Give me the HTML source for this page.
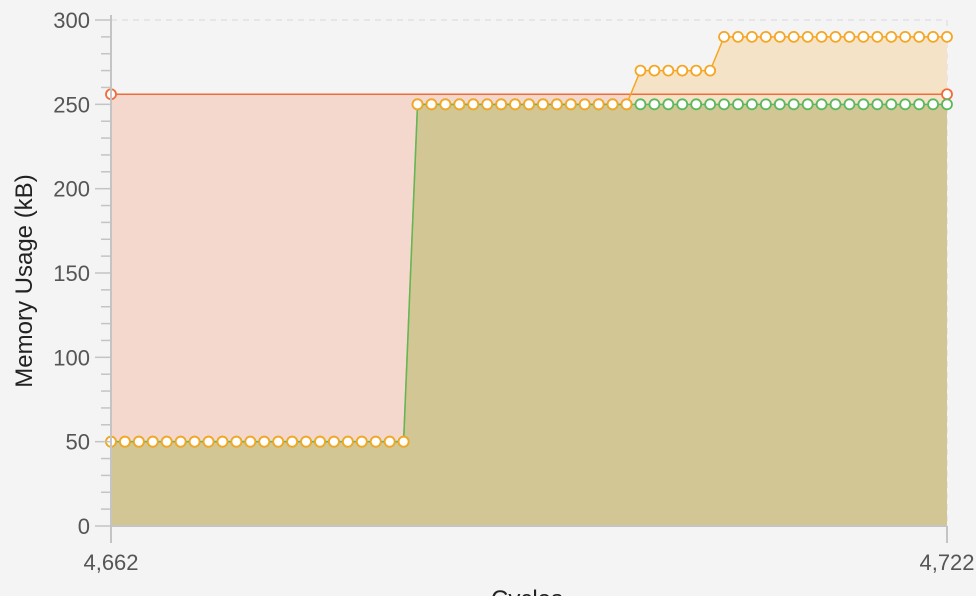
<!DOCTYPE html>
<html><head><meta charset="utf-8"><style>
body{margin:0;background:#f4f4f4;font-family:"Liberation Sans",sans-serif;}
svg{display:block}
</style></head><body>
<svg id="c" width="976" height="596"></svg>
<script>
const xStart = 4662, xEnd = 4722;
const yTicks = [0,50,100,150,200,250,300];
const xTickLabels = ["4,662","4,722"];
const redSeries = [[4662,256],[4722,256]];
const yellowLevels = [[0,21,50],[22,37,250],[38,43,270],[44,60,290]];
const greenLevels = [[0,21,50],[22,60,250]];
function expand(levels){const o=[];levels.forEach(l=>{for(let i=l[0];i<=l[1];i++)o.push([xStart+i,l[2]]);});return o;}
const yellowSeries = expand(yellowLevels);
const greenSeries = expand(greenLevels);

const L=111,R=947,T=20,B=526;
const X=v=>L+(v-xStart)/(xEnd-xStart)*(R-L);
const Y=v=>B-(v/300)*(B-T);
const svg=document.getElementById('c');
const NS='http://www.w3.org/2000/svg';
function mk(tag,attrs,name){const e=document.createElementNS(NS,tag);for(const k in attrs)e.setAttribute(k,attrs[k]);


svg.appendChild(e);return e;}

yTicks.forEach(t=>{ if(t>0) mk('line',{x1:L,x2:R,y1:Y(t),y2:Y(t),stroke:'#d8d8d8','stroke-dasharray':'6,5'},'grid-line-'+t);});
mk('line',{x1:R,x2:R,y1:T,y2:B,stroke:'#d8d8d8','stroke-dasharray':'6,5'},'grid-line-right');

function area(s,fill,name){let d='M'+X(s[0][0])+','+B;s.forEach(p=>d+='L'+X(p[0])+','+Y(p[1]));d+='L'+X(s[s.length-1][0])+','+B+'Z';mk('path',{d:d,fill:fill},name);}
function line(s,stroke,name){let d='';s.forEach((p,i)=>d+=(i?'L':'M')+X(p[0])+','+Y(p[1]));mk('path',{d:d,fill:'none',stroke:stroke,'stroke-width':1.5},name);}
function pts(s,stroke,name){s.forEach(p=>mk('circle',{cx:X(p[0]),cy:Y(p[1]),r:5,fill:'#fff',stroke:stroke,'stroke-width':1.8},name));}

area(redSeries,'#f4d8ce','red-area');
area(yellowSeries,'#f5e3c8','yellow-area');
area(greenSeries,'#d2c695','green-area');
line(redSeries,'#f26b3a','red-line');
line(yellowSeries,'#f5a623','yellow-line');
line(greenSeries,'#5cb85c','green-line');
pts(redSeries,'#f26b3a','red-point');
pts(greenSeries,'#5cb85c','green-point');
pts(yellowSeries,'#f5a623','yellow-point');

mk('line',{x1:L,x2:L,y1:T-5,y2:B+17,stroke:'#c4c4c4','stroke-width':2},'y-axis');
mk('line',{x1:L,x2:R,y1:B,y2:B,stroke:'#c4c4c4','stroke-width':2},'x-axis');
mk('line',{x1:R,x2:R,y1:B,y2:B+17,stroke:'#c4c4c4','stroke-width':2},'x-tick-end');
for(let v=0;v<=300;v+=10){const maj=v%50===0;
 mk('line',{x1:maj?95:101,x2:L,y1:Y(v),y2:Y(v),stroke:'#c4c4c4','stroke-width':1.5},maj?'y-major-tick':'y-minor-tick');}
yTicks.forEach(t=>{const e=mk('text',{x:90,y:Y(t)+8,'text-anchor':'end','font-size':22,fill:'#555'},'y-tick-label');e.textContent=t;});
[xStart,xEnd].forEach((v,i)=>{const e=mk('text',{x:X(v),y:570,'text-anchor':'middle','font-size':22,fill:'#555'},'x-tick-label');e.textContent=xTickLabels[i];});
const yt=mk('text',{x:0,y:0,transform:'translate(32,281) rotate(-90)','text-anchor':'middle','font-size':24,fill:'#222'},'y-axis-title');yt.textContent='Memory Usage (kB)';
const xt=mk('text',{x:527,y:607,'text-anchor':'middle','font-size':24,fill:'#222'},'x-axis-title');xt.textContent='Cycles';
</script>
</body></html>
